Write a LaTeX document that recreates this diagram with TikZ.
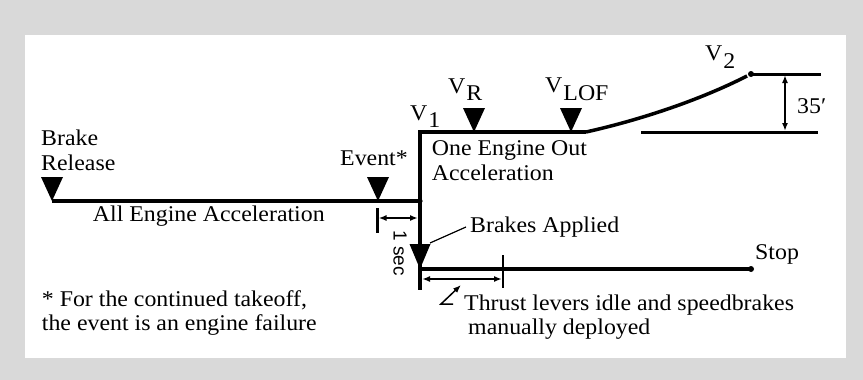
\documentclass[tikz,border=0pt]{standalone}
\usepackage{fontspec}
\setmainfont{Liberation Serif}[FakeStretch=1.06]
\newfontfamily\sansf{Liberation Sans}
\usetikzlibrary{arrows.meta}
\definecolor{bggray}{RGB}{217,217,217}
\begin{document}
\begin{tikzpicture}[x=1pt,y=-1pt,
  lbl/.style={inner sep=0pt, anchor=base west, font=\fontsize{22.5}{24.5}\selectfont, align=left},
  mainline/.style={line width=4pt},
  dimline/.style={line width=2pt, {Latex[length=8pt,width=6pt]}-{Latex[length=8pt,width=6pt]}},
  tickline/.style={line width=2.5pt},
  marker/.style={fill=black}
]
\useasboundingbox (0,0) rectangle (863,380);
\fill[bggray] (0,0) rectangle (863,380);
\fill[white] (25,35) rectangle (846,358);

% key points
\coordinate (br) at (52,201);
\coordinate (ev) at (378,201);
\coordinate (j) at (420,201);
\coordinate (v1) at (420,132);
\coordinate (vr) at (474,132);
\coordinate (vlof) at (571,132);
\coordinate (lo) at (586,132);
\coordinate (v2) at (751,74);
\coordinate (ba) at (420,269);
\coordinate (vb) at (420,290);
\coordinate (stop) at (751,269);
\coordinate (tk) at (503,269);

% main lines
\draw[mainline] (br) -- (j);
\draw[mainline, line join=miter] (lo) -- (v1) -- (vb);
\draw[mainline] (ba) -- (stop);
\draw[line width=3.5pt] (lo) .. controls (640,120) and (700,100) .. (747,76);
\fill (j) circle (2.6);
\fill (v2) circle (3);
\fill (stop) circle (3);

% markers
\foreach \c in {br,ev,vr,vlof}
  \fill[marker] (\c) -- ++(-11,-24) -- ++(22,0) -- cycle;
\fill[marker] (ba) -- ++(-10.5,-25) -- ++(21,0) -- cycle;

% 35 ft dimension
\coordinate (h1a) at (753,74); \coordinate (h1b) at (821,74);
\coordinate (h2a) at (641,132); \coordinate (h2b) at (818,132);
\draw[line width=3pt] (h1a) -- (h1b);
\draw[line width=3pt] (h2a) -- (h2b);
\coordinate (d1) at (785,75); \coordinate (d2) at (785,131);
\draw[dimline] (d1) -- (d2);

% 1 sec dimension
\coordinate (s1) at (377.5,208); \coordinate (s2) at (377.5,233);
\draw[tickline] (s1) -- (s2);
\coordinate (sa) at (378.5,218); \coordinate (sb) at (418,218);
\draw[dimline] (sa) -- (sb);

% brake dimension
\coordinate (t1) at (503,255); \coordinate (t2) at (503,288);
\draw[tickline] (t1) -- (t2);
\coordinate (ta) at (422,279); \coordinate (tb) at (502,279);
\draw[dimline] (ta) -- (tb);

% leaders
\coordinate (la) at (430,243); \coordinate (lb) at (466,227);
\draw[line width=1.2pt] (la) -- (lb);
\coordinate (pa) at (453,304); \coordinate (pb) at (441,304); \coordinate (pc) at (461,285);
\draw[line width=1.5pt, -{Latex[length=8pt,width=6pt]}] (pa) -- (pb) -- (pc);

% labels (multi-line nodes: base anchor is the last line's baseline)
\node[lbl] (tbr) at (41,170.2) {Brake\\Release};
\node[lbl, anchor=base] (tev) at (374,165.7) {Event*};
\node[lbl] (toe) at (431.7,180) {One Engine Out\\Acceleration};
\node[lbl] (tae) at (92.7,221.7) {All Engine Acceleration};
\node[lbl] (tba) at (470,232) {Brakes Applied};
\node[lbl] (tth) at (464,334.5) {Thrust levers idle and speedbrakes\\\hspace{4pt}manually deployed};
\node[lbl] (tfn) at (41.7,330.5) {* For the continued takeoff,\\the event is an engine failure};
\node[lbl] (tst) at (755,259) {Stop};
\node[lbl] (t35) at (797,113) {35\char"2032};
\node[lbl] (tv1) at (410,120) {V\kern1pt\raisebox{-7pt}{1}};
\node[lbl] (tvr) at (448,93) {V\kern1pt\raisebox{-7pt}{R}};
\node[lbl] (tvl) at (545,92) {V\kern1pt\raisebox{-8pt}{LOF}};
\node[lbl] (tv2) at (705,60) {V\kern1pt\raisebox{-8pt}{2}};
\node[font=\sansf\fontsize{19}{19}\selectfont, rotate=-90, inner sep=0pt] (tsec) at (400,253) {1 sec};
\end{tikzpicture}
\end{document}
